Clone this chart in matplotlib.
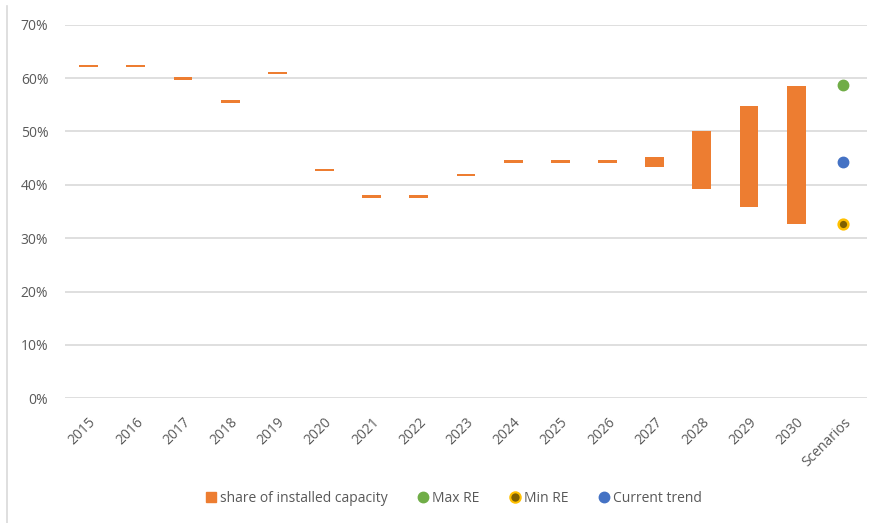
import matplotlib.pyplot as plt
from matplotlib.lines import Line2D
from matplotlib.ticker import PercentFormatter

plt.rcParams['font.family'] = ['Open Sans', 'DejaVu Sans']

years = ['2015', '2016', '2017', '2018', '2019', '2020', '2021', '2022',
         '2023', '2024', '2025', '2026', '2027', '2028', '2029', '2030']
# lower / upper share of installed capacity (%)
share_low = [62.3, 62.3, 59.9, 55.6, 60.9, 42.8, 37.8, 37.8,
             41.8, 44.4, 44.4, 44.4, 43.4, 39.3, 35.8, 32.7]
share_high = [62.3, 62.3, 59.9, 55.6, 60.9, 42.8, 37.8, 37.8,
              41.8, 44.4, 44.4, 44.4, 45.2, 50.1, 54.7, 58.6]

# scenario points for 2030
max_re = 58.7
min_re = 32.6
current_trend = 44.2

categories = years + ['Scenarios']

ORANGE = '#ED7D31'
GREEN = '#70AD47'
BLUE = '#4472C4'
GOLD = '#FFC000'
DARK = '#7F6000'
GREY_TXT = '#595959'
GRID = '#D9D9D9'

fig = plt.figure(figsize=(8.76, 5.23), dpi=100)
ax = fig.add_axes([65 / 876, 1 - 398.3 / 523, 802 / 876, (398.3 - 24.7) / 523])

# a range bar per year; single values get a thin dash
dash = 0.45
bottoms = []
heights = []
for lo, hi in zip(share_low, share_high):
    if hi - lo < dash:
        bottoms.append(lo - dash / 2)
        heights.append(dash)
    else:
        bottoms.append(lo)
        heights.append(hi - lo)

x = list(range(len(years)))
ax.bar(x, heights, bottom=bottoms, width=0.4, color=ORANGE, zorder=3,
       label='share of installed capacity')

xs = len(years)
ax.plot([xs], [max_re], 'o', ms=7.5, color=GREEN, zorder=4, label='Max RE')
ax.plot([xs], [min_re], 'o', ms=7, color=DARK, mec=GOLD, mew=1.8, zorder=4,
        label='Min RE')
ax.plot([xs], [current_trend], 'o', ms=7.5, color=BLUE, zorder=4,
        label='Current trend')

ax.set_xlim(-0.5, len(categories) - 0.5)
ax.set_ylim(0, 70)
ax.set_yticks(range(0, 71, 10))
ax.yaxis.set_major_formatter(PercentFormatter(decimals=0))
ax.set_xticks(range(len(categories)))
ax.set_xticklabels(categories, rotation=45, ha='right', rotation_mode='anchor')
ax.tick_params(axis='both', length=0, labelsize=10, colors=GREY_TXT)
ax.tick_params(axis='x', pad=12)
ax.tick_params(axis='y', pad=12)

ax.grid(axis='y', color=GRID, lw=1.2, zorder=0)
ax.set_axisbelow(True)
for s in ax.spines.values():
    s.set_visible(False)

handles = [
    Line2D([], [], marker='s', ls='', color=ORANGE, ms=6.5),
    Line2D([], [], marker='o', ls='', color=GREEN, ms=7.5),
    Line2D([], [], marker='o', ls='', color=DARK, mec=GOLD, mew=1.5, ms=7.5),
    Line2D([], [], marker='o', ls='', color=BLUE, ms=7.5),
]
labels = ['share of installed capacity', 'Max RE', 'Min RE', 'Current trend']
leg = fig.legend(handles, labels, loc='center', ncol=4, frameon=False,
                 bbox_to_anchor=(454 / 876, 1 - 498 / 523), fontsize=10,
                 handlelength=0.7, handletextpad=0.3, columnspacing=2.2)
for t in leg.get_texts():
    t.set_color(GREY_TXT)

# outer chart border on the left
fig.add_artist(Line2D([7 / 876, 7 / 876], [0, 1 - 6 / 523],
                      transform=fig.transFigure, color=GRID, lw=1.2))

fig.savefig('out.png', dpi=100)
